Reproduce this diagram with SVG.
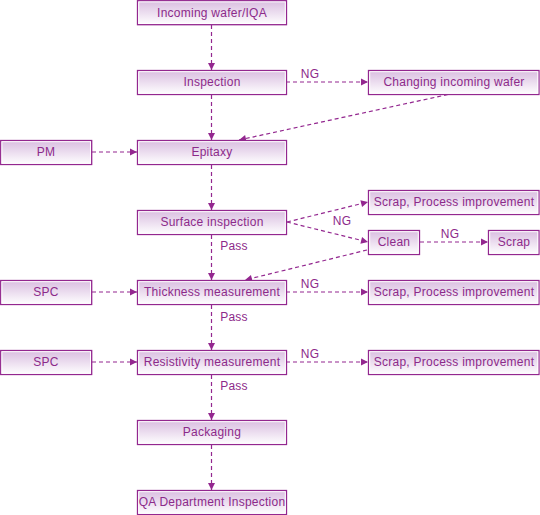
<svg xmlns="http://www.w3.org/2000/svg" width="540" height="515" viewBox="0 0 540 515">
<defs>
<linearGradient id="g" x1="0" y1="0" x2="0" y2="1">
<stop offset="0" stop-color="#d9bde0"/>
<stop offset="1" stop-color="#ffffff"/>
</linearGradient>
<marker id="a" viewBox="0 0 8 8" refX="8" refY="4" markerWidth="8" markerHeight="8" markerUnits="userSpaceOnUse" orient="auto">
<path d="M1,0.5 L8,4 L1,7.5 Z" fill="#93278f"/>
</marker>
<style>
.n rect.o{fill:url(#g);stroke:#93278f;stroke-width:1.3}
.n rect.i{fill:none;stroke:#ffffff;stroke-width:1}
.n text{font-family:"Liberation Sans",Arial,sans-serif;font-size:12px;letter-spacing:0.25px;fill:#8c2a8a;text-anchor:middle;dominant-baseline:central}
#connectors line{stroke:#93278f;stroke-width:1.2;stroke-dasharray:4,3;fill:none;marker-end:url(#a)}
.l{font-family:"Liberation Sans",Arial,sans-serif;font-size:12px;letter-spacing:0.25px;fill:#8c2a8a;text-anchor:middle;dominant-baseline:central}
</style>
</defs>
<rect width="540" height="515" fill="#ffffff"/>
<g id="connectors">
<line x1="211.5" y1="25" x2="211.5" y2="70"/>
<line x1="286" y1="82" x2="368" y2="82"/>
<line x1="448" y1="94.5" x2="239" y2="140"/>
<line x1="211.5" y1="95" x2="211.5" y2="140"/>
<line x1="92" y1="152" x2="137" y2="152"/>
<line x1="211.5" y1="165" x2="211.5" y2="210"/>
<line x1="287" y1="222" x2="368" y2="202"/>
<line x1="287" y1="222" x2="368" y2="242"/>
<line x1="420" y1="242" x2="488" y2="242"/>
<line x1="367" y1="250" x2="245" y2="280"/>
<line x1="211.5" y1="235" x2="211.5" y2="280"/>
<line x1="92" y1="292" x2="137" y2="292"/>
<line x1="286" y1="292" x2="368" y2="292"/>
<line x1="211.5" y1="305" x2="211.5" y2="350"/>
<line x1="92" y1="362" x2="137" y2="362"/>
<line x1="286" y1="362" x2="368" y2="362"/>
<line x1="211.5" y1="375" x2="211.5" y2="420"/>
<line x1="211.5" y1="445" x2="211.5" y2="490"/>
</g>
<g id="labels">
<text class="l" x="310" y="74">NG</text>
<text class="l" x="342" y="221">NG</text>
<text class="l" x="450" y="234">NG</text>
<text class="l" x="234" y="246">Pass</text>
<text class="l" x="310" y="284">NG</text>
<text class="l" x="234" y="317">Pass</text>
<text class="l" x="310" y="354">NG</text>
<text class="l" x="234" y="386">Pass</text>
</g>
<g id="n1" class="n"><rect class="o" x="137.5" y="0.7" width="149" height="24"/><rect class="i" x="138.7" y="1.9" width="146.6" height="21.6"/><text x="212" y="13">Incoming wafer/IQA</text></g>
<g id="n2" class="n"><rect class="o" x="137.5" y="70.5" width="149" height="24"/><rect class="i" x="138.7" y="71.7" width="146.6" height="21.6"/><text x="212" y="82">Inspection</text></g>
<g id="n3" class="n"><rect class="o" x="368.5" y="70.5" width="170.5" height="24"/><rect class="i" x="369.7" y="71.7" width="168.1" height="21.6"/><text x="454" y="82">Changing incoming wafer</text></g>
<g id="n4" class="n"><rect class="o" x="0.7" y="140.5" width="91" height="24"/><rect class="i" x="1.9" y="141.7" width="88.6" height="21.6"/><text x="46" y="152">PM</text></g>
<g id="n5" class="n"><rect class="o" x="137.5" y="140.5" width="149" height="24"/><rect class="i" x="138.7" y="141.7" width="146.6" height="21.6"/><text x="212" y="152">Epitaxy</text></g>
<g id="n6" class="n"><rect class="o" x="137.5" y="210.5" width="149" height="24"/><rect class="i" x="138.7" y="211.7" width="146.6" height="21.6"/><text x="212" y="222">Surface inspection</text></g>
<g id="n7" class="n"><rect class="o" x="368.5" y="190.5" width="170.5" height="24"/><rect class="i" x="369.7" y="191.7" width="168.1" height="21.6"/><text x="454" y="202">Scrap, Process improvement</text></g>
<g id="n8" class="n"><rect class="o" x="368.5" y="230.5" width="51" height="24"/><rect class="i" x="369.7" y="231.7" width="48.6" height="21.6"/><text x="394" y="242">Clean</text></g>
<g id="n9" class="n"><rect class="o" x="488.5" y="230.5" width="50.5" height="24"/><rect class="i" x="489.7" y="231.7" width="48.1" height="21.6"/><text x="514" y="242">Scrap</text></g>
<g id="n10" class="n"><rect class="o" x="0.7" y="280.5" width="91" height="24"/><rect class="i" x="1.9" y="281.7" width="88.6" height="21.6"/><text x="46" y="292">SPC</text></g>
<g id="n11" class="n"><rect class="o" x="137.5" y="280.5" width="149" height="24"/><rect class="i" x="138.7" y="281.7" width="146.6" height="21.6"/><text x="212" y="292">Thickness measurement</text></g>
<g id="n12" class="n"><rect class="o" x="368.5" y="280.5" width="170.5" height="24"/><rect class="i" x="369.7" y="281.7" width="168.1" height="21.6"/><text x="454" y="292">Scrap, Process improvement</text></g>
<g id="n13" class="n"><rect class="o" x="0.7" y="350.5" width="91" height="24"/><rect class="i" x="1.9" y="351.7" width="88.6" height="21.6"/><text x="46" y="362">SPC</text></g>
<g id="n14" class="n"><rect class="o" x="137.5" y="350.5" width="149" height="24"/><rect class="i" x="138.7" y="351.7" width="146.6" height="21.6"/><text x="212" y="362">Resistivity measurement</text></g>
<g id="n15" class="n"><rect class="o" x="368.5" y="350.5" width="170.5" height="24"/><rect class="i" x="369.7" y="351.7" width="168.1" height="21.6"/><text x="454" y="362">Scrap, Process improvement</text></g>
<g id="n16" class="n"><rect class="o" x="137.5" y="420.5" width="149" height="24"/><rect class="i" x="138.7" y="421.7" width="146.6" height="21.6"/><text x="212" y="432">Packaging</text></g>
<g id="n17" class="n"><rect class="o" x="137.5" y="490.5" width="149" height="24"/><rect class="i" x="138.7" y="491.7" width="146.6" height="21.6"/><text x="212" y="502">QA Department Inspection</text></g>
</svg>
